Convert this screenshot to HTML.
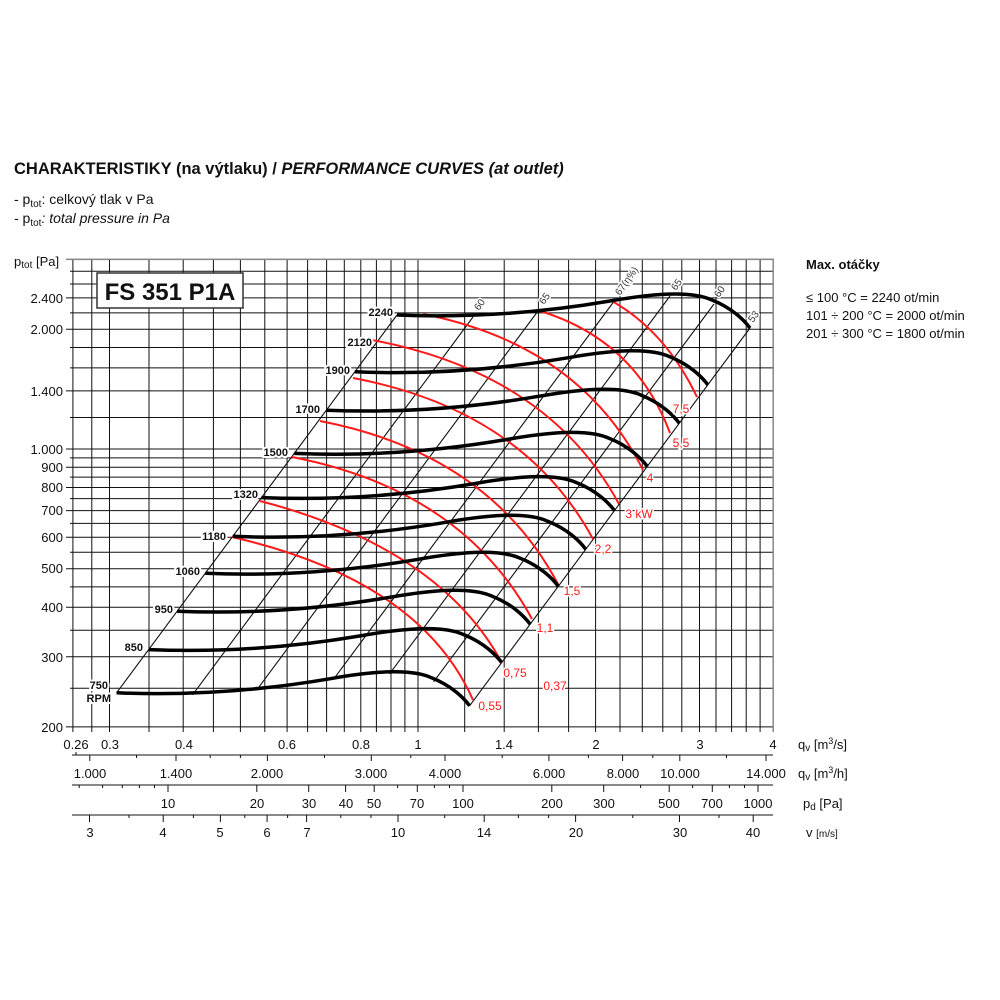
<!DOCTYPE html>
<html><head><meta charset="utf-8"><style>
html,body{margin:0;padding:0;background:#fff;}
svg{display:block;}
text{font-family:"Liberation Sans",Arial,sans-serif;fill:#111;}
text.r{fill:#ff1a1a;}
text.e{fill:#333;}
</style></head><body>
<svg width="1000" height="1000" viewBox="0 0 1000 1000" xmlns="http://www.w3.org/2000/svg">
<rect width="1000" height="1000" fill="#fff"/>
<!-- Title -->
<text x="14" y="174" font-size="16.5" font-weight="bold">CHARAKTERISTIKY (na výtlaku) / <tspan font-style="italic">PERFORMANCE CURVES (at outlet)</tspan></text>
<text x="14" y="204" font-size="14">- p<tspan font-size="10" dy="3">tot</tspan><tspan dy="-3">: celkový tlak v Pa</tspan></text>
<text x="14" y="223" font-size="14">- p<tspan font-size="10" dy="3">tot</tspan><tspan dy="-3" font-style="italic">: total pressure in Pa</tspan></text>
<text x="14" y="266" font-size="13">p<tspan font-size="10" dy="2">tot</tspan><tspan dy="-2"> [Pa]</tspan></text>

<text x="806" y="269" font-size="13" font-weight="bold">Max. otáčky</text>
<text x="806" y="302" font-size="13">≤ 100 °C = 2240 ot/min</text>
<text x="806" y="320" font-size="13">101 ÷ 200 °C = 2000 ot/min</text>
<text x="806" y="338" font-size="13">201 ÷ 300 °C = 1800 ot/min</text>

<!-- grid -->
<g stroke="#111" stroke-width="1">
<path d="M72.9 259V732M91.8 259V732M109.5 259V732M149 259V732M183.2 259V732M213.4 259V732M240.4 259V732M264.8 259V732M287.1 259V732M307.6 259V732M326.6 259V732M344.3 259V732M360.8 259V732M376.4 259V732M391 259V732M404.9 259V732M418 259V732M464.7 259V732M504.2 259V732M538.4 259V732M568.6 259V732M595.6 259V732M620 259V732M642.3 259V732M662.8 259V732M681.8 259V732M699.5 259V732M716 259V732M731.6 259V732M746.2 259V732M760.1 259V732"/>
<path d="M66 726.9H773M70 688.3H773M66 656.8H773M70 630.2H773M66 607.2H773M70 586.9H773M66 568.7H773M70 552.2H773M66 537.2H773M70 523.4H773M66 510.6H773M70 498.6H773M66 487.5H773M70 477.1H773M66 467.2H773M70 457.9H773M66 449H773M70 417.5H773M66 390.9H773M70 367.9H773M70 347.5H773M66 329.3H773M70 312.9H773M66 297.9H773M70 284H773M70 271.2H773M66 259.4H773"/>
</g>
<path d="M773.2 259V732M66 259.4H774" stroke="#888" stroke-width="1.5" fill="none"/>

<g font-size="13" text-anchor="end">
<text x="63" y="303">2.400</text>
<text x="63" y="334">2.000</text>
<text x="63" y="396">1.400</text>
<text x="63" y="454">1.000</text>
<text x="63" y="472">900</text>
<text x="63" y="492">800</text>
<text x="63" y="515">700</text>
<text x="63" y="542">600</text>
<text x="63" y="573">500</text>
<text x="63" y="612">400</text>
<text x="63" y="662">300</text>
<text x="63" y="732">200</text>
</g>

<rect x="97" y="273" width="146" height="35" fill="#fff" stroke="#333" stroke-width="1.5"/>
<text x="170" y="300" font-size="24" font-weight="bold" text-anchor="middle">FS 351 P1A</text>

<g stroke="#111" stroke-width="1.1" fill="none">
<path d="M397 315l-280.4 377.8M473 317l-280.4 377.8M538 311l-280.4 377.8M615 300l-280.4 377.8M670 296l-280.4 377.8M714 304l-280.4 377.8M750 328l-280.4 377.8"/>
</g>

<g stroke="#ff1a1a" stroke-width="2" fill="none">
<path d="M610 300Q665 330 697 397"/>
<path d="M540 311Q635 340 670 433"/>
<path d="M423 314Q580 345 643 470"/>
<path d="M372 340Q548 373 619 504"/>
<path d="M353 378Q523 410 593 539"/>
<path d="M320 421Q490 454 559 586"/>
<path d="M292 457Q462 490 532 619"/>
<path d="M260 501Q440 548 502 663"/>
<path d="M232 537Q420 580 473 700"/>
</g>

<defs>
<path id="fc" d="M397 315C470 318 540 313 610 301C650 294 690 290 712 300C732 308 744 320 750 328" fill="none" stroke="#000" stroke-width="3.5"/>
</defs>
<use href="#fc"/>
<use href="#fc" transform="translate(-42.2 56.8)"/>
<use href="#fc" transform="translate(-70.7 95.2)"/>
<use href="#fc" transform="translate(-102.7 138.4)"/>
<use href="#fc" transform="translate(-135.5 182.6)"/>
<use href="#fc" transform="translate(-164.2 221.3)"/>
<use href="#fc" transform="translate(-191.7 258.3)"/>
<use href="#fc" transform="translate(-219.8 296.2)"/>
<use href="#fc" transform="translate(-248.3 334.6)"/>
<use href="#fc" transform="translate(-280.4 377.8)"/>

<g font-size="11" font-weight="bold" text-anchor="end" stroke="#fff" stroke-width="4" paint-order="stroke">
<text x="393" y="316">2240</text>
<text x="372" y="346">2120</text>
<text x="350" y="374">1900</text>
<text x="320" y="413">1700</text>
<text x="288" y="456">1500</text>
<text x="258" y="498">1320</text>
<text x="226" y="540">1180</text>
<text x="200" y="575">1060</text>
<text x="173" y="613">950</text>
<text x="143" y="651">850</text>
<text x="108" y="689">750</text>
<text x="111" y="702">RPM</text>
</g>

<g font-size="10" stroke="#fff" stroke-width="3" paint-order="stroke">
<text class="e" transform="translate(479 311) rotate(-55)">60</text>
<text class="e" transform="translate(544 305) rotate(-55)">65</text>
<text class="e" transform="translate(620 296) rotate(-55)">67(η%)</text>
<text class="e" transform="translate(676 291) rotate(-55)">65</text>
<text class="e" transform="translate(719 298) rotate(-55)">60</text>
<text class="e" transform="translate(753 323) rotate(-55)">53</text>
</g>

<g font-size="12" text-anchor="middle" stroke="#fff" stroke-width="3" paint-order="stroke">
<text class="r" x="681" y="413">7,5</text>
<text class="r" x="681" y="447">5,5</text>
<text class="r" x="650" y="482">4</text>
<text class="r" x="639" y="518">3 kW</text>
<text class="r" x="603" y="553">2,2</text>
<text class="r" x="572" y="595">1,5</text>
<text class="r" x="545" y="632">1,1</text>
<text class="r" x="515" y="677">0,75</text>
<text class="r" x="555" y="690">0,37</text>
<text class="r" x="490" y="710">0,55</text>
</g>

<g stroke="#111" stroke-width="1" fill="none">
<path d="M72 755H773M72 785H773M72 815H773"/>
<path d="M89.8 755v6M136.5 755v3M176 755v6M210.2 755v3M240.4 755v3M267.4 755v6M324.5 755v3M371.3 755v6M410.8 755v3M445 755v6M502.2 755v3M548.9 755v6M588.4 755v3M622.6 755v6M652.8 755v3M679.8 755v6M726.5 755v3M766 755v6M76 755v-3"/>
<path d="M79.2 785v3M102.6 785v3M122.3 785v3M139.4 785v3M154.5 785v3M168 785v7M256.8 785v7M308.7 785v7M345.6 785v7M374.2 785v7M397.6 785v3M417.3 785v7M434.4 785v3M449.5 785v3M463 785v7M551.8 785v7M603.7 785v7M640.6 785v3M669.2 785v7M692.6 785v3M712.3 785v7M729.4 785v3M744.5 785v3M758 785v7"/>
<path d="M89.5 815v7M129 815v3M163.2 815v7M193.4 815v3M220.4 815v7M244.8 815v3M267.1 815v7M287.6 815v3M306.6 815v7M340.8 815v3M371 815v3M398 815v7M444.7 815v3M484.2 815v7M518.4 815v3M548.6 815v3M575.6 815v7M632.8 815v3M679.5 815v7M719 815v3M753.2 815v7"/>
</g>

<g font-size="13" text-anchor="middle">
<text x="76" y="749">0.26</text>
<text x="110" y="749">0.3</text>
<text x="184" y="749">0.4</text>
<text x="287" y="749">0.6</text>
<text x="361" y="749">0.8</text>
<text x="418" y="749">1</text>
<text x="504" y="749">1.4</text>
<text x="596" y="749">2</text>
<text x="700" y="749">3</text>
<text x="773" y="749">4</text>

<text x="90" y="778">1.000</text>
<text x="176" y="778">1.400</text>
<text x="267" y="778">2.000</text>
<text x="371" y="778">3.000</text>
<text x="445" y="778">4.000</text>
<text x="549" y="778">6.000</text>
<text x="623" y="778">8.000</text>
<text x="680" y="778">10.000</text>
<text x="766" y="778">14.000</text>

<text x="168" y="808">10</text>
<text x="257" y="808">20</text>
<text x="309" y="808">30</text>
<text x="346" y="808">40</text>
<text x="374" y="808">50</text>
<text x="417" y="808">70</text>
<text x="463" y="808">100</text>
<text x="552" y="808">200</text>
<text x="604" y="808">300</text>
<text x="669" y="808">500</text>
<text x="712" y="808">700</text>
<text x="758" y="808">1000</text>

<text x="90" y="837">3</text>
<text x="163" y="837">4</text>
<text x="220" y="837">5</text>
<text x="267" y="837">6</text>
<text x="307" y="837">7</text>
<text x="398" y="837">10</text>
<text x="484" y="837">14</text>
<text x="576" y="837">20</text>
<text x="680" y="837">30</text>
<text x="753" y="837">40</text>
</g>

<g font-size="13">
<text x="798" y="749">q<tspan font-size="10" dy="2">v</tspan><tspan dy="-2"> [m</tspan><tspan font-size="9" dy="-5">3</tspan><tspan dy="5">/s]</tspan></text>
<text x="798" y="778">q<tspan font-size="10" dy="2">v</tspan><tspan dy="-2"> [m</tspan><tspan font-size="9" dy="-5">3</tspan><tspan dy="5">/h]</tspan></text>
<text x="803" y="808">p<tspan font-size="10" dy="2">d</tspan><tspan dy="-2"> [Pa]</tspan></text>
<text x="806" y="837">v <tspan font-size="10">[m/s]</tspan></text>
</g>
</svg>
</body></html>
